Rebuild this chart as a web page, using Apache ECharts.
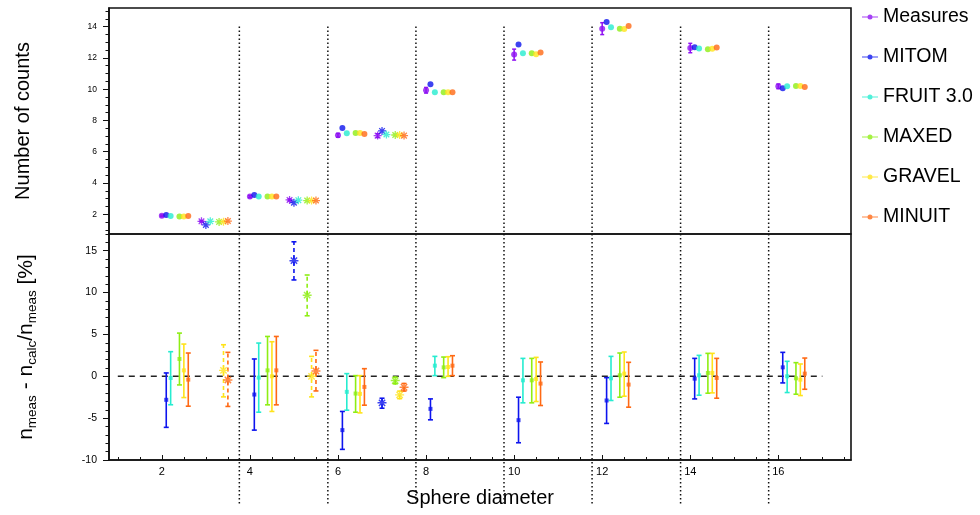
<!DOCTYPE html>
<html>
<head>
<meta charset="utf-8">
<script src="https://cdn.jsdelivr.net/npm/echarts@6/dist/echarts.min.js"></script>
<style>
html,body{margin:0;padding:0;background:#fff;}
#chart{width:980px;height:515px;}
</style>
</head>
<body>
<div id="chart"></div>
<script>
// ---------------- data ----------------
const diameters = [2, 4, 6, 8, 10, 12, 14, 16];
const starDiameters = [2, 4, 6];
const methods = ['Measures', 'MITOM', 'FRUIT 3.0', 'MAXED', 'GRAVEL', 'MINUIT'];
const circleOffsets = [0, 0.1, 0.2, 0.4, 0.5, 0.6];
const starOffsets = [0.9, 1.0, 1.1, 1.3, 1.4, 1.5];

// Number of counts (circle configuration), one value per diameter
const countsMeasures = [1.90, 3.13, 7.05, 9.93, 12.21, 13.87, 12.63, 10.18];
const countsMeasuresErr = [0.05, 0.07, 0.12, 0.18, 0.35, 0.38, 0.30, 0.15];
const countsMitom = [1.96, 3.24, 7.52, 10.31, 12.85, 14.30, 12.68, 10.06];
const countsFruit = [1.89, 3.13, 7.18, 9.80, 12.29, 13.96, 12.60, 10.18];
const countsMaxed = [1.86, 3.13, 7.20, 9.80, 12.29, 13.87, 12.55, 10.20];
const countsGravel = [1.86, 3.13, 7.20, 9.80, 12.23, 13.85, 12.58, 10.20];
const countsMinuit = [1.89, 3.13, 7.13, 9.80, 12.34, 14.04, 12.66, 10.14];

// Number of counts (star configuration), diameters 2, 4, 6
const starMeasures = [1.55, 2.92, 7.03];
const starMeasuresErr = [0.04, 0.06, 0.12];
const starMitom = [1.32, 2.74, 7.33];
const starFruit = [1.55, 2.90, 7.10];
const starMaxed = [1.51, 2.88, 7.07];
const starGravel = [1.53, 2.88, 7.07];
const starMinuit = [1.57, 2.88, 7.03];

// Residuals [%]: [value, low, high] per diameter (circle configuration)
const resMitom = [[-2.81,-6.10,0.40],[-2.18,-6.43,2.07],[-6.43,-8.73,-4.20],[-3.89,-5.20,-2.70],[-5.24,-7.94,-2.50],[-2.89,-5.63,-0.16],[-0.28,-2.70,2.14],[1.07,-0.79,2.86]];
const resFruit = [[-0.20,-3.40,2.94],[-0.16,-4.29,3.97],[-1.86,-4.05,0.32],[1.27,0.08,2.38],[-0.48,-3.17,2.14],[-0.24,-2.89,2.38],[0.12,-2.26,2.50],[0.00,-1.94,1.79]];
const resMaxed = [[2.07,-1.03,5.16],[0.71,-3.41,4.76],[-2.06,-4.29,0.08],[1.07,-0.16,2.30],[-0.48,-3.17,2.14],[0.12,-2.50,2.78],[0.40,-2.02,2.74],[-0.24,-2.14,1.63]];
const resGravel = [[0.71,-2.54,3.85],[0.00,-4.20,4.13],[-2.10,-4.37,0.08],[1.11,0.00,2.34],[-0.32,-3.01,2.26],[0.32,-2.38,2.90],[0.40,-1.98,2.74],[-0.40,-2.30,1.47]];
const resMinuit = [[-0.40,-3.57,2.78],[0.71,-3.41,4.76],[-1.27,-3.45,0.91],[1.27,0.08,2.46],[-0.87,-3.49,1.71],[-0.99,-3.69,1.67],[-0.20,-2.62,2.14],[0.32,-1.55,2.18]];

// Residuals [%] (star configuration), diameters 2, 4, 6 (null = not shown)
const resStarMitom = [null, [13.81,11.51,16.07], [-3.17,-3.81,-2.62]];
const resStarFruit = [null, null, null];
const resStarMaxed = [null, [9.69,7.23,12.10], [-0.51,-0.90,-0.10]];
const resStarGravel = [[0.71,-2.46,3.77], [0.00,-2.46,2.38], [-2.22,-2.67,-1.77]];
const resStarMinuit = [[-0.44,-3.60,2.86], [0.63,-1.75,3.10], [-1.31,-1.76,-0.86]];

// axis ticks / labels
const xTicks = [2, 4, 6, 8, 10, 12, 14, 16];
const xMinorTicks = [1, 1.5, 2.5, 3, 3.5, 4.5, 5, 5.5, 6.5, 7, 7.5, 8.5, 9, 9.5, 10.5, 11, 11.5, 12.5, 13, 13.5, 14.5, 15, 15.5, 16.5, 17, 17.5];
const topYTicks = [2, 4, 6, 8, 10, 12, 14];
const topYMinorTicks = [1, 1.5, 2.5, 3, 3.5, 4.5, 5, 5.5, 6.5, 7, 7.5, 8.5, 9, 9.5, 10.5, 11, 11.5, 12.5, 13, 13.5, 14.5, 15];
const botYTicks = [-10, -5, 0, 5, 10, 15];
const botYMinorTicks = [-9, -8, -7, -6, -4, -3, -2, -1, 1, 2, 3, 4, 6, 7, 8, 9, 11, 12, 13, 14, 16, 17];

// separators between diameter groups and reference line
const dividerX = [3.76, 5.77, 7.77, 9.77, 11.77, 13.78, 15.78];
const dividerTopStart = 14;
const dividerBottomEnd = -15.4;
const zeroLine = [[1, 0], [17, 0]];

// ---------------- styling ----------------
const colors = ['#8f12f2', '#0d14ee', '#26ecd0', '#8eee14', '#ffe31a', '#ff6914'];
const FONT = '"Liberation Sans", Arial, Helvetica, sans-serif';
const X_MIN = 0.8, X_MAX = 17.65;
const TOP_MIN = 0.74, TOP_MAX = 15.19;
const BOT_MIN = -10, BOT_MAX = 17;

const STAR = 'path://M0,4.2L10,4.2L10,5.8L0,5.8Z M4.2,0L5.8,0L5.8,10L4.2,10Z M2.07,0.93L9.07,7.93L7.93,9.07L0.93,2.07Z M9.07,2.07L2.07,9.07L0.93,7.93L7.93,0.93Z';
const LEG_ICON = 'path://M0,2L16,2L16,3L0,3Z M5.5,2.5A2.5,2.5 0 1 1 10.5,2.5A2.5,2.5 0 1 1 5.5,2.5Z';

const countsCircle = [countsMeasures, countsMitom, countsFruit, countsMaxed, countsGravel, countsMinuit];
const countsStar = [starMeasures, starMitom, starFruit, starMaxed, starGravel, starMinuit];
const resCircle = [null, resMitom, resFruit, resMaxed, resGravel, resMinuit];
const resStar = [null, resStarMitom, resStarFruit, resStarMaxed, resStarGravel, resStarMinuit];

function errorBars(name, data, color, xi, yi, dashed, width, cap) {
  return {
    type: 'custom', name: name, xAxisIndex: xi, yAxisIndex: yi, clip: false, z: 3,
    data: data, encode: { x: 0, y: [1, 2] },
    renderItem: function (params, api) {
      const x = api.value(0);
      const lo = api.coord([x, api.value(1)]);
      const hi = api.coord([x, api.value(2)]);
      const s = { stroke: color, lineWidth: width, fill: null };
      const main = { stroke: color, lineWidth: width, fill: null, lineDash: dashed ? [4, 3] : null };
      return { type: 'group', children: [
        { type: 'line', shape: { x1: lo[0], y1: lo[1], x2: hi[0], y2: hi[1] }, style: main },
        { type: 'line', shape: { x1: lo[0] - cap, y1: lo[1], x2: lo[0] + cap, y2: lo[1] }, style: s },
        { type: 'line', shape: { x1: hi[0] - cap, y1: hi[1], x2: hi[0] + cap, y2: hi[1] }, style: s }
      ]};
    }
  };
}

const series = [];
// top panel markers
methods.forEach(function (m, i) {
  series.push({
    type: 'scatter', name: m, xAxisIndex: 0, yAxisIndex: 0, z: 5,
    symbol: 'circle', symbolSize: 6, itemStyle: { color: colors[i] },
    data: diameters.map(function (d, k) { return [d + circleOffsets[i], countsCircle[i][k]]; })
  });
});
methods.forEach(function (m, i) {
  series.push({
    type: 'scatter', name: m, xAxisIndex: 0, yAxisIndex: 0, z: 5,
    symbol: STAR, symbolSize: 8, itemStyle: { color: colors[i] },
    data: starDiameters.map(function (d, k) { return [d + starOffsets[i], countsStar[i][k]]; })
  });
});
// measured error bars (top)
series.push(errorBars('Measures', diameters.map(function (d, k) {
  return [d + circleOffsets[0], countsMeasures[k] - countsMeasuresErr[k], countsMeasures[k] + countsMeasuresErr[k]];
}), colors[0], 0, 0, false, 1.5, 2));
series.push(errorBars('Measures', starDiameters.map(function (d, k) {
  return [d + starOffsets[0], starMeasures[k] - starMeasuresErr[k], starMeasures[k] + starMeasuresErr[k]];
}), colors[0], 0, 0, false, 1.5, 2));

// bottom panel
for (let i = 1; i < methods.length; i++) {
  const rc = resCircle[i];
  series.push(errorBars(methods[i], diameters.map(function (d, k) {
    return [d + circleOffsets[i], rc[k][1], rc[k][2]];
  }), colors[i], 1, 2, false, 1.6, 2.5));
  series.push({
    type: 'scatter', name: methods[i], xAxisIndex: 1, yAxisIndex: 2, z: 5,
    symbol: 'rect', symbolSize: 4, itemStyle: { color: colors[i] },
    data: diameters.map(function (d, k) { return [d + circleOffsets[i], rc[k][0]]; })
  });
  const rs = resStar[i];
  const sd = [], sv = [];
  starDiameters.forEach(function (d, k) {
    if (rs[k]) {
      sd.push([d + starOffsets[i], rs[k][1], rs[k][2]]);
      sv.push([d + starOffsets[i], rs[k][0]]);
    }
  });
  if (sd.length) {
    series.push(errorBars(methods[i], sd, colors[i], 1, 2, true, 1.6, 2.5));
    series.push({
      type: 'scatter', name: methods[i], xAxisIndex: 1, yAxisIndex: 2, z: 5,
      symbol: STAR, symbolSize: 9, itemStyle: { color: colors[i] }, data: sv
    });
  }
}

// zero reference line
series.push({
  type: 'line', xAxisIndex: 1, yAxisIndex: 2, data: zeroLine, symbol: 'none', z: 2,
  lineStyle: { color: '#222', width: 1.5, type: [6, 5] }, silent: true
});

// dotted dividers
function dividers(xi, yi, y0, y1) {
  return {
    type: 'custom', xAxisIndex: xi, yAxisIndex: yi, clip: false, z: 1, silent: true,
    data: dividerX.map(function (x) { return [x, y0, y1]; }),
    encode: { x: 0, y: [1, 2] },
    renderItem: function (params, api) {
      const a = api.coord([api.value(0), api.value(1)]);
      const b = api.coord([api.value(0), api.value(2)]);
      return { type: 'line', shape: { x1: a[0], y1: a[1], x2: b[0], y2: b[1] },
        style: { stroke: '#111', lineWidth: 1.5, lineDash: [1.5, 2.5] } };
    }
  };
}
series.push(dividers(0, 0, dividerTopStart, TOP_MIN));
series.push(dividers(1, 2, BOT_MAX, dividerBottomEnd));

const noLine = { show: false, onZero: false };

const option = {
  animation: false,
  backgroundColor: '#fff',
  textStyle: { fontFamily: FONT, color: '#000' },
  legend: {
    orient: 'vertical', left: 857, top: 2, itemWidth: 16, itemHeight: 5, itemGap: 20,
    textStyle: { fontSize: 19.5, color: '#000', fontFamily: FONT, lineHeight: 20 },
    data: methods.map(function (m) { return { name: m, icon: LEG_ICON }; })
  },
  grid: [
    { left: 109, width: 742, top: 8, height: 226, show: true, borderColor: '#111', borderWidth: 1.6, backgroundColor: 'transparent' },
    { left: 109, width: 742, top: 234, height: 226, show: true, borderColor: '#111', borderWidth: 1.6, backgroundColor: 'transparent' }
  ],
  xAxis: [
    { type: 'value', gridIndex: 0, min: X_MIN, max: X_MAX, show: false, splitLine: { show: false } },
    { type: 'value', gridIndex: 1, min: X_MIN, max: X_MAX, position: 'bottom',
      axisLine: { show: true, onZero: false, lineStyle: { color: '#111', width: 1.6 } },
      axisTick: { show: true, inside: true, length: 5, customValues: xTicks, lineStyle: { color: '#111' } },
      axisLabel: { show: true, customValues: xTicks, fontSize: 11, color: '#000', margin: 6, fontFamily: FONT },
      splitLine: { show: false },
      name: 'Sphere diameter', nameLocation: 'middle', nameGap: 28,
      nameTextStyle: { fontSize: 20, color: '#000', fontFamily: FONT } },
    { type: 'value', gridIndex: 1, min: X_MIN, max: X_MAX, position: 'bottom',
      axisLine: noLine,
      axisTick: { show: true, inside: true, length: 3, customValues: xMinorTicks, lineStyle: { color: '#111' } },
      axisLabel: { show: false }, splitLine: { show: false } }
  ],
  yAxis: [
    { type: 'value', gridIndex: 0, min: TOP_MIN, max: TOP_MAX, position: 'left',
      axisLine: { show: true, onZero: false, lineStyle: { color: '#111', width: 1.6 } },
      axisTick: { show: true, length: 6, customValues: topYTicks, lineStyle: { color: '#111' } },
      axisLabel: { show: true, customValues: topYTicks, fontSize: 8.5, color: '#000', margin: 12, fontFamily: FONT },
      splitLine: { show: false },
      name: 'Number of counts', nameLocation: 'middle', nameRotate: 90, nameGap: 76,
      nameTextStyle: { fontSize: 20, color: '#000', fontFamily: FONT } },
    { type: 'value', gridIndex: 0, min: TOP_MIN, max: TOP_MAX, position: 'left',
      axisLine: noLine,
      axisTick: { show: true, length: 3.5, customValues: topYMinorTicks, lineStyle: { color: '#111' } },
      axisLabel: { show: false }, splitLine: { show: false } },
    { type: 'value', gridIndex: 1, min: BOT_MIN, max: BOT_MAX, position: 'left',
      axisLine: { show: true, onZero: false, lineStyle: { color: '#111', width: 1.6 } },
      axisTick: { show: true, length: 6, customValues: botYTicks, lineStyle: { color: '#111' } },
      axisLabel: { show: true, customValues: botYTicks, fontSize: 10.5, color: '#000', margin: 12, fontFamily: FONT },
      splitLine: { show: false },
      name: '{n|n}{s|meas}{n| - n}{s|calc}{n|/n}{s|meas}{n| [%]}',
      nameLocation: 'middle', nameRotate: 90, nameGap: 70,
      nameTextStyle: { fontFamily: FONT, color: '#000', rich: {
        n: { fontSize: 21, lineHeight: 26, fontFamily: FONT, color: '#000', verticalAlign: 'middle' },
        s: { fontSize: 13.5, lineHeight: 13, fontFamily: FONT, color: '#000', verticalAlign: 'bottom' }
      } } },
    { type: 'value', gridIndex: 1, min: BOT_MIN, max: BOT_MAX, position: 'left',
      axisLine: noLine,
      axisTick: { show: true, length: 3.5, customValues: botYMinorTicks, lineStyle: { color: '#111' } },
      axisLabel: { show: false }, splitLine: { show: false } }
  ],
  series: series
};

const chart = echarts.init(document.getElementById('chart'), null, { renderer: 'canvas' });
chart.setOption(option);
</script>
</body>
</html>
